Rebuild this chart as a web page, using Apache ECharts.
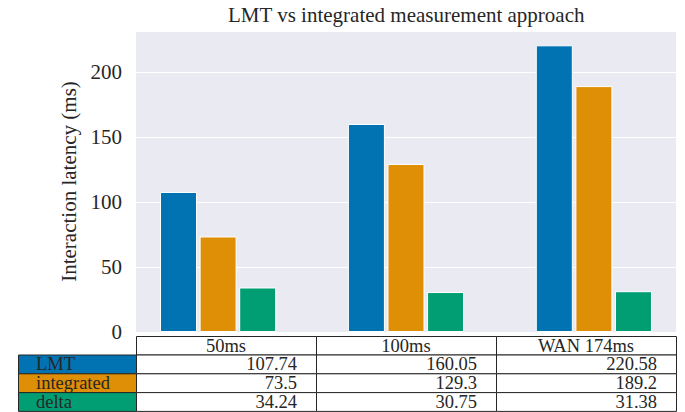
<!DOCTYPE html>
<html>
<head>
<meta charset="utf-8">
<script src="https://cdn.jsdelivr.net/npm/echarts@6/dist/echarts.min.js"></script>
<style>
html,body{margin:0;padding:0;background:#fff;}
#chart{width:685px;height:412px;}
</style>
</head>
<body>
<div id="chart"></div>
<script>
const categories = ['50ms', '100ms', 'WAN 174ms'];
const seriesNames = ['LMT', 'integrated', 'delta'];
const lmtValues = [107.74, 160.05, 220.58];
const integratedValues = [73.5, 129.3, 189.2];
const deltaValues = [34.24, 30.75, 31.38];
const yTicks = [0, 50, 100, 150, 200];

const colors = ['#0173B2', '#DE8F05', '#029E73'];
const FONT = '"Liberation Serif", "DejaVu Serif", serif';
const TEXT = '#262626';
const FS = 21;
const TABLE_FS = 18.5;

const gridLeft = 136, gridRight = 676, gridTop = 31, gridBottom = 332;
const allSeries = [lmtValues, integratedValues, deltaValues];

const chart = echarts.init(document.getElementById('chart'), null, {renderer: 'svg'});

// Table built from the data arrays
const graphics = [];
const colW = (gridRight - gridLeft) / categories.length;
const tableTop = 336, headerH = 18.5, rowH = 18.8, labelLeft = 18;
const cellText = (text, x, y, align) => ({
  type: 'text', x: x, y: y, z: 10,
  style: {text: text, fontFamily: FONT, fontSize: TABLE_FS, fill: TEXT, align: align,
    verticalAlign: 'middle', lineHeight: 18}
});
categories.forEach((c, i) => {
  const x0 = gridLeft + i * colW;
  graphics.push({type: 'rect', shape: {x: Math.round(x0) + 0.5, y: tableTop + 0.5, width: colW, height: headerH},
    style: {fill: '#fff', stroke: TEXT, lineWidth: 1}});
  graphics.push(cellText(c, x0 + colW / 2, tableTop + headerH / 2 + 0.5, 'center'));
});
seriesNames.forEach((name, r) => {
  const y0 = tableTop + headerH + r * rowH;
  graphics.push({type: 'rect', shape: {x: labelLeft + 0.5, y: y0 + 0.5, width: gridLeft - labelLeft, height: rowH},
    style: {fill: colors[r], stroke: TEXT, lineWidth: 1}});
  graphics.push(cellText(name, 36, y0 + rowH / 2 + 0.5, 'left'));
  categories.forEach((c, i) => {
    const x0 = gridLeft + i * colW;
    graphics.push({type: 'rect', shape: {x: Math.round(x0) + 0.5, y: y0 + 0.5, width: colW, height: rowH},
      style: {fill: '#fff', stroke: TEXT, lineWidth: 1}});
    graphics.push(cellText(String(allSeries[r][i]), x0 + colW - 19, y0 + rowH / 2 + 0.5, 'right'));
  });
});

const option = {
  animation: false,
  backgroundColor: '#fff',
  title: {
    text: 'LMT vs integrated measurement approach',
    left: 228, top: 4, padding: 0,
    textStyle: {fontFamily: FONT, fontSize: FS, fontWeight: 'normal', color: TEXT}
  },
  grid: {
    left: gridLeft, right: 685 - gridRight, top: gridTop, bottom: 412 - gridBottom,
    show: true, backgroundColor: '#EAEAF2', borderWidth: 0
  },
  xAxis: {
    type: 'value', min: -0.437, max: 2.437, show: false,
    splitLine: {show: false}
  },
  yAxis: {
    type: 'value', min: 0, max: 231.6, interval: 50,
    name: 'Interaction latency (ms)', nameLocation: 'middle', nameGap: 52,
    nameTextStyle: {fontFamily: FONT, fontSize: FS, color: TEXT},
    axisLine: {show: false}, axisTick: {show: false},
    axisLabel: {fontFamily: FONT, fontSize: FS, color: TEXT, margin: 14,
      showMaxLabel: false,
      formatter: v => (yTicks.indexOf(v) >= 0 ? String(v) : '')},
    splitLine: {lineStyle: {color: '#ffffff', width: 1}}
  },
  series: seriesNames.map((name, s) => ({
    name: name, type: 'bar',
    data: allSeries[s].map((v, i) => [i, v]),
    barWidth: 37, barGap: '7%',
    itemStyle: {color: colors[s], borderColor: '#ffffff', borderWidth: 1}
  })),
  graphic: graphics
};
chart.setOption(option);
</script>
</body>
</html>
